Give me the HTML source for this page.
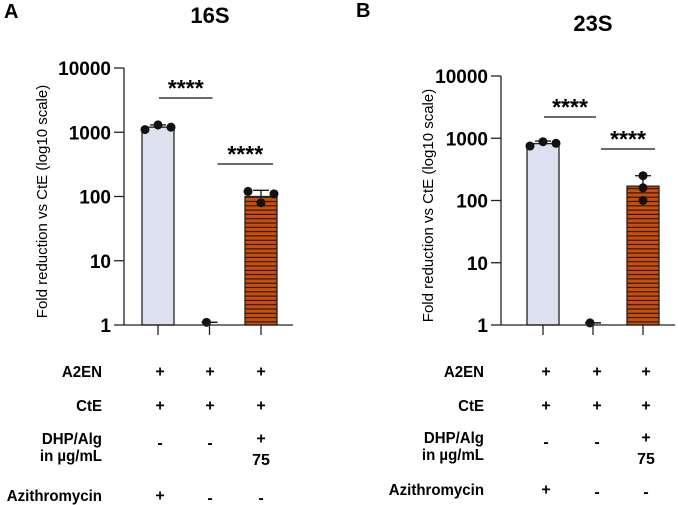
<!DOCTYPE html>
<html><head><meta charset="utf-8"><style>
body{margin:0;background:#fff}
svg{display:block;font-family:"Liberation Sans",Arial,sans-serif}
.b{font-weight:bold}
</style></head><body>
<svg id="c" width="678" height="505" viewBox="0 0 678 505">
<defs>
<pattern id="stripe" width="6" height="4.3" patternUnits="userSpaceOnUse">
<rect width="6" height="4.3" fill="#c8500f"/><rect y="3.2" width="6" height="1" fill="#1a0a00"/>
</pattern>
</defs>
</svg>
<script>
const panelTitles=["16S","23S"];
const panelLetters=["A","B"];
const barMeans=[[1200,1.1,100],[820,1.08,170]];
const dotValues=[[[1100,1300,1200],[1.1],[120,80,110]],[[750,880,830],[1.08],[250,160,100]]];
const errHigh=[[1300,1.1,125],[900,1.08,250]];
const errLow=[[1100,1.1,100],[800,1.08,170]];
const tickValues=[1,10,100,1000,10000];
const tickLabels=["1","10","100","1000","10000"];
const rowLabels=["A2EN","CtE","DHP/Alg","Azithromycin"];
const rowSigns=[["+","+","+"],["+","+","+"],["-","-","+"],["+","-","-"]];
const sig=[[0,1],[1,2]];

const NS="http://www.w3.org/2000/svg";
const svg=document.getElementById('c');
function mk(t,a,p,txt){const e=document.createElementNS(NS,t);for(const k in a)e.setAttribute(k,a[k]);if(txt!==undefined)e.textContent=txt;(p||svg).appendChild(e);return e;}

const P=[
 {ax:124,x0:158,dx:51.5,top:68,bot:325,xend:293,title:[210,23],letter:[4,18],ytx:42,sigY:[98,164],labR:102,signX:[160,210,261],rowC:[371,405,438,495],rowY2:461,rowC75:459},
 {ax:501,x0:543,dx:50,top:76,bot:325,xend:675,title:[593,31],letter:[356,17],ytx:428,sigY:[117,149],labR:484,signX:[546,597,646],rowC:[371,405,437,489],rowY2:460,rowC75:458}
];
const sigOff=[[1,3],[8,12]];
P.forEach((p,pi)=>{
 const g=mk('g',{});
 
 
 const y=v=>p.bot-(Math.log10(v)/4)*(p.bot-p.top);
 const xc=i=>p.x0+i*p.dx;
 let t=mk('text',{x:p.letter[0],y:p.letter[1],'font-size':20,class:'b'},g,panelLetters[pi]);
 
 t=mk('text',{x:p.title[0],y:p.title[1],'font-size':22,class:'b','text-anchor':'middle'},g,panelTitles[pi]);
 
 t=mk('text',{x:0,y:0,'font-size':15,'text-anchor':'middle',transform:`translate(${p.ytx+5},${(p.top+p.bot)/2+5}) rotate(-90)`},g,'Fold reduction vs CtE (log10 scale)');
 
 barMeans[pi].forEach((v,i)=>{
  if(i===1)return;
  const r=mk('rect',{x:xc(i)-16,y:y(v),width:32,height:p.bot-y(v),fill:i===0?'#dde0ee':'url(#stripe)',stroke:'#222','stroke-width':1.3},g);
  
 });
 barMeans[pi].forEach((v,i)=>{
  const e=mk('g',{stroke:'#111','stroke-width':1.3},g);
  
  mk('line',{x1:xc(i),x2:xc(i),y1:y(errHigh[pi][i]),y2:y(errLow[pi][i])},e);
  mk('line',{x1:xc(i)-8,x2:xc(i)+8,y1:y(errHigh[pi][i]),y2:y(errHigh[pi][i])},e);
  if(i===1) mk('line',{x1:xc(i)-8,x2:xc(i)+8,y1:y(v),y2:y(v)},e);
 });
 dotValues[pi].forEach((arr,i)=>{
  const n=arr.length;
  arr.forEach((v,j)=>{
   const off=n===1?-3:(pi===1&&i===2?0:(j-1)*13);
   const c=mk('circle',{cx:xc(i)+off,cy:y(v),r:4.5,fill:'#111'},g);
   
  });
 });
 const a=mk('g',{stroke:'#222','stroke-width':1.3},g);
 
 mk('line',{x1:p.ax,x2:p.ax,y1:p.top,y2:p.bot},a);
 mk('line',{x1:p.ax,x2:p.xend,y1:p.bot,y2:p.bot},a);
 tickValues.forEach(v=>mk('line',{x1:p.ax-10,x2:p.ax,y1:y(v),y2:y(v)},a));
 [0,1,2].forEach(i=>mk('line',{x1:xc(i),x2:xc(i),y1:p.bot,y2:p.bot+10},a));
 tickValues.forEach((v,i)=>{
  const tl=mk('text',{x:p.ax-13,y:y(v)+7,'font-size':19,class:'b','text-anchor':'end'},g,tickLabels[i]);
  
 });
 sig.forEach((s,k)=>{
  const x1=xc(s[0])+sigOff[k][0],x2=xc(s[1])+sigOff[k][1];
  const ln=mk('line',{x1:x1,x2:x2,y1:p.sigY[k],y2:p.sigY[k],stroke:'#111','stroke-width':1.3},g);
  
  const st=mk('text',{x:(x1+x2)/2,y:p.sigY[k]-2,'font-size':23,class:'b','text-anchor':'middle'},g,'****');
  
 });
 const sc=0.94;
 rowLabels.forEach((lab,r)=>{
  const l=mk('text',{x:p.labR,y:p.rowC[r]+6,'font-size':16,class:'b','text-anchor':'end',transform:`translate(${p.labR*(1-sc)},0) scale(${sc},1)`},g,lab);
  
  rowSigns[r].forEach((s,i)=>{
   const dy=s==='+'?5.5:(r===2?10:8);
   const st=mk('text',{x:p.signX[i],y:p.rowC[r]+dy,'font-size':16,class:'b','text-anchor':'middle'},g,s);
   
  });
 });
 let l2=mk('text',{x:p.labR,y:p.rowY2,'font-size':16,class:'b','text-anchor':'end',transform:`translate(${p.labR*(1-sc)},0) scale(${sc},1)`},g,'in µg/mL');
 
 l2=mk('text',{x:p.signX[2],y:p.rowC75+6,'font-size':16,class:'b','text-anchor':'middle'},g,'75');
 
});
</script>
</body></html>
